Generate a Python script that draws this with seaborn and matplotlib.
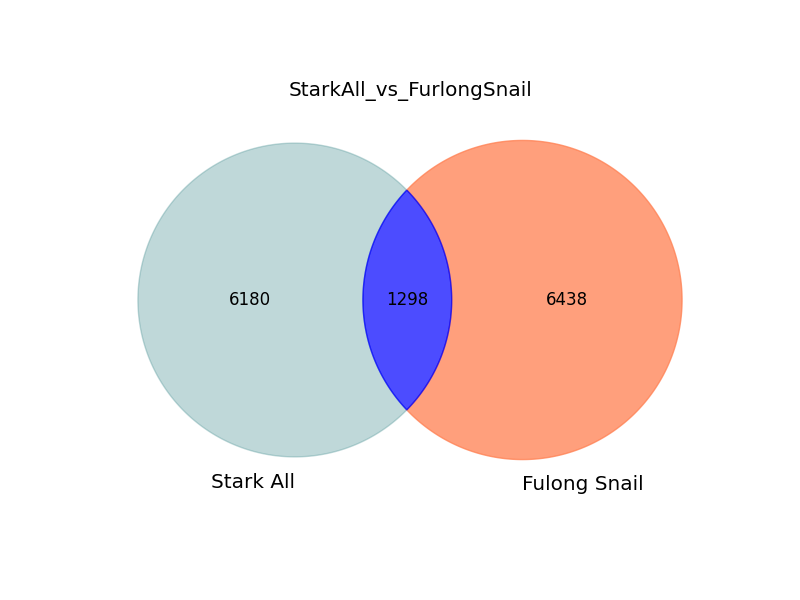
"""
Two-set area-proportional Venn diagram: StarkAll vs FurlongSnail
"""

import numpy as np
import matplotlib
matplotlib.use("Agg")
import matplotlib.pyplot as plt
from matplotlib.patches import Polygon
import seaborn as sns

# ─────────────────────────────────────────────
# Data
# ─────────────────────────────────────────────
set_labels = ["Stark All", "Fulong Snail"]
only_a = 6180
only_b = 6438
both = 1298
title = "StarkAll_vs_FurlongSnail"

region_colors = {"10": "cadetblue", "01": "coral", "11": "blue"}
region_alpha = {"10": 0.4, "01": 0.75, "11": 0.7}


# ─────────────────────────────────────────────
# Geometry
# ─────────────────────────────────────────────
def lens_area(r1, r2, d):
    if d >= r1 + r2:
        return 0.0
    if d <= abs(r1 - r2):
        return np.pi * min(r1, r2) ** 2
    a1 = np.arccos((d**2 + r1**2 - r2**2) / (2 * d * r1))
    a2 = np.arccos((d**2 + r2**2 - r1**2) / (2 * d * r2))
    k = np.sqrt((-d + r1 + r2) * (d + r1 - r2) * (d - r1 + r2) * (d + r1 + r2))
    return r1**2 * a1 + r2**2 * a2 - 0.5 * k


def find_distance(r1, r2, target):
    lo, hi = abs(r1 - r2), r1 + r2
    for _ in range(200):
        mid = 0.5 * (lo + hi)
        if lens_area(r1, r2, mid) > target:
            lo = mid
        else:
            hi = mid
    return 0.5 * (lo + hi)


def arc(cx, cy, r, t1, t2, n=300):
    t = np.linspace(t1, t2, n)
    return np.column_stack([cx + r * np.cos(t), cy + r * np.sin(t)])


total = only_a + only_b + both
area_a = (only_a + both) / total
area_b = (only_b + both) / total
area_ab = both / total

r_a = np.sqrt(area_a / np.pi)
r_b = np.sqrt(area_b / np.pi)
d = find_distance(r_a, r_b, area_ab)

xa, xb = -d / 2, d / 2
xi = (d**2 + r_a**2 - r_b**2) / (2 * d) + xa
h = np.sqrt(r_a**2 - (xi - xa) ** 2)
ta = np.arctan2(h, xi - xa)
tb = np.arctan2(h, xb - xi)

regions = {
    "10": np.vstack([arc(xa, 0, r_a, ta, 2 * np.pi - ta),
                     arc(xb, 0, r_b, np.pi + tb, np.pi - tb)]),
    "01": np.vstack([arc(xb, 0, r_b, np.pi + tb, 3 * np.pi - tb),
                     arc(xa, 0, r_a, ta, -ta)]),
    "11": np.vstack([arc(xa, 0, r_a, -ta, ta),
                     arc(xb, 0, r_b, np.pi - tb, np.pi + tb)]),
}

label_x = {
    "10": 0.5 * ((xa - r_a) + (xb - r_b)),
    "01": 0.5 * ((xa + r_a) + (xb + r_b)),
    "11": 0.5 * ((xb - r_b) + (xa + r_a)),
}
counts = {"10": only_a, "01": only_b, "11": both}

# ─────────────────────────────────────────────
# Plot
# ─────────────────────────────────────────────
sns.set_style("white")
plt.rcParams["font.size"] = 12
plt.rcParams["font.family"] = ["DejaVu Sans"]
plt.rcParams["text.color"] = "black"

fig, ax = plt.subplots(figsize=(8, 6), dpi=100)
fig.subplots_adjust(bottom=0.12, top=0.88)

for key in ["10", "01", "11"]:
    patch = Polygon(regions[key], closed=True, linewidth=1.0)
    patch.set_color(region_colors[key])
    patch.set_alpha(region_alpha[key])
    ax.add_patch(patch)
    ax.text(label_x[key], 0, str(counts[key]), ha="center", va="center")

pad = np.mean([r_a, r_b]) * 0.1
ax.text(xa, -r_a - pad, set_labels[0], size="large", ha="right", va="top")
ax.text(xb, -r_b - pad, set_labels[1], size="large", ha="left", va="top")

ax.set_aspect("equal")
margin = 0.1
ax.set_xlim(min(xa - r_a, xb - r_b) - margin, max(xa + r_a, xb + r_b) + margin)
ax.set_ylim(-max(r_a, r_b) - margin, max(r_a, r_b) + margin)
ax.set_axis_off()
ax.set_title(title, color="black", pad=4.5)

plt.savefig("out.png", dpi=100)
plt.close()
